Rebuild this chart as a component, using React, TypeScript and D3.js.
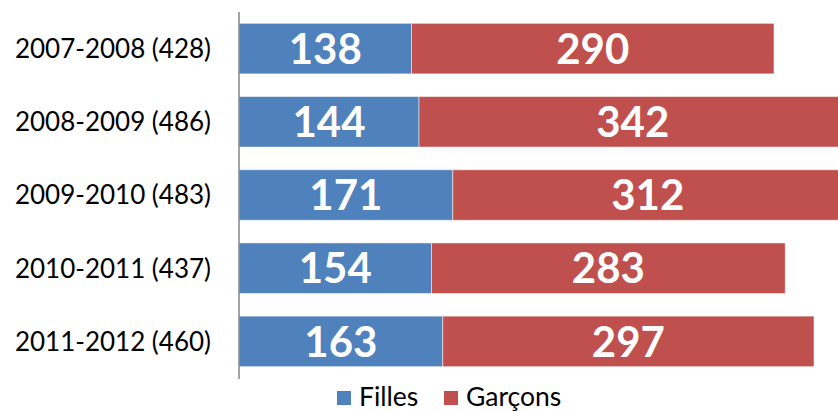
import React from "react";
import * as d3 from "d3";

const categories = ["2007-2008 (428)", "2008-2009 (486)", "2009-2010 (483)", "2010-2011 (437)", "2011-2012 (460)"];
const filles = [138, 144, 171, 154, 163];
const garcons = [290, 342, 312, 283, 297];
const seriesNames = ["Filles", "Garçons"];
const seriesColors = ["#4F81BD", "#C0504D"];

const W = 838;
const H = 411;
const FONT = "Lato, 'Open Sans', sans-serif";

export default function App() {
  const x0 = 239;
  const x = d3.scaleLinear().domain([0, 428]).range([x0, 774]);
  const y = d3.scaleBand<string>().domain(categories).range([12, 378]).paddingInner(0.31).paddingOuter(0.155);
  const data = categories.map((c, i) => ({ cat: c, Filles: filles[i], "Garçons": garcons[i] }));
  const stack = d3.stack<any>().keys(seriesNames)(data);

  return (
    <div style={{ position: "absolute", left: 0, top: 0 }}>
      <svg width={W} height={H} style={{ display: "block", overflow: "hidden" }}>
        <rect width={W} height={H} fill="#ffffff" />
        {stack.map((s, si) => (
          <g key={s.key}>
            {s.map((d, i) => {
              const xa = x(d[0]);
              const xb = x(d[1]);
              const yy = y(categories[i])!;
              const bh = y.bandwidth();
              return (
                <g key={i}>
                  <rect x={xa} y={yy} width={xb - xa} height={bh} fill={seriesColors[si]} stroke="#ffffff" strokeOpacity={0.5} strokeWidth={1} />
                  <text
                    x={(xa + xb) / 2}
                    y={yy + bh / 2}
                    dy="0.36em"
                    textAnchor="middle"
                    fill="#ffffff"
                    fontFamily={FONT}
                    fontWeight="bold"
                    fontSize={42}
                  >
                    {d[1] - d[0]}
                  </text>
                </g>
              );
            })}
          </g>
        ))}
        <line x1={x0} x2={x0} y1={12} y2={379} stroke="#868686" strokeWidth={1.5} />
        {categories.map((c) => (
          <text
            key={c}
            x={211}
            y={y(c)! + y.bandwidth() / 2}
            dy="0.36em"
            textAnchor="end"
            fontFamily={FONT}
            fontSize={26}
            fill="#000000"
          >
            {c}
          </text>
        ))}
        <g>
          <rect x={337} y={391} width={14} height={14} fill={seriesColors[0]} />
          <text x={359} y={406} fontFamily={FONT} fontSize={26.5} fill="#000000">{seriesNames[0]}</text>
          <rect x={444} y={391} width={14} height={14} fill={seriesColors[1]} />
          <text x={466} y={406} fontFamily={FONT} fontSize={26.5} fill="#000000">{seriesNames[1]}</text>
        </g>
      </svg>
    </div>
  );
}
